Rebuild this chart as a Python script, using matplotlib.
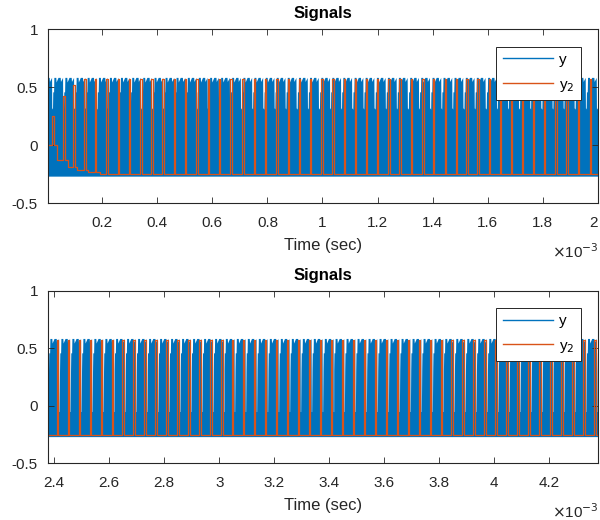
import numpy as np
import matplotlib
matplotlib.use("Agg")
import matplotlib.pyplot as plt
from matplotlib.lines import Line2D
from matplotlib.ticker import FuncFormatter
from matplotlib.transforms import ScaledTranslation

plt.rcParams['font.family'] = ['Liberation Sans', 'DejaVu Sans']

# colours (matlab default order)
c_y = '#0072BD'
c_y2 = '#D95319'

# --- top panel, times in ms ---
top_xlim = [0.0016, 2.0]
top_pulse_t = [0.019, 0.058, 0.094, 0.134, 0.173, 0.2144, 0.2565, 0.2965, 0.3379,
               0.3779, 0.4179, 0.4589, 0.4989, 0.5414, 0.5835, 0.6235, 0.6649,
               0.7085, 0.7497, 0.7896, 0.8321, 0.8742, 0.915, 0.955, 0.996, 1.036,
               1.077, 1.117, 1.158, 1.198, 1.239, 1.279, 1.3198, 1.3626, 1.4011,
               1.4436, 1.4836, 1.5225, 1.5625, 1.6047, 1.6436, 1.6836, 1.7246,
               1.7645, 1.8045, 1.8459, 1.8859, 1.9280, 1.9706]
top_pulse_peak = [0.25, 0.42, 0.52, 0.57] + [0.575] * 45
top_base_t = [0.0, 0.036, 0.077, 0.107, 0.149, 0.19]
top_base_v = [0.0, -0.13, -0.19, -0.215, -0.235, -0.25]
top_block_t = [-0.021, 0.019, 0.059, 0.100, 0.140, 0.181, 0.221, 0.261, 0.302, 0.342,
               0.383, 0.423, 0.463, 0.504, 0.544, 0.585, 0.625, 0.665, 0.706, 0.746,
               0.787, 0.827, 0.867, 0.908, 0.948, 0.989, 1.029, 1.069, 1.110, 1.150,
               1.191, 1.231, 1.271, 1.312, 1.352, 1.393, 1.433, 1.473, 1.514, 1.554,
               1.595, 1.635, 1.675, 1.716, 1.756, 1.797, 1.837, 1.877, 1.918, 1.958,
               1.999, 2.039]
top_gap_v = 0.32

# --- bottom panel ---
bot_xlim = [2.376, 4.376]
bot_pulse_t = [2.408, 2.448, 2.488, 2.528, 2.568, 2.608, 2.647, 2.687, 2.727, 2.767,
               2.807, 2.847, 2.887, 2.927, 2.967, 3.007, 3.046, 3.086, 3.126, 3.166,
               3.206, 3.246, 3.286, 3.326, 3.366, 3.406, 3.445, 3.485, 3.525, 3.565,
               3.605, 3.645, 3.685, 3.725, 3.765, 3.805, 3.844, 3.884, 3.924, 3.964,
               4.004, 4.044, 4.084, 4.124, 4.164, 4.204, 4.243, 4.283, 4.323, 4.363]
bot_pulse_peak = [0.575] * 50
bot_base_t = [0.0]
bot_base_v = [-0.25]
bot_block_offset = -0.029   # blue block starts this long before each pulse
bot_gap_v = -0.05

# shape of one blue block (upper envelope), then the thin gap before the next one
prof_dt = [0.000, 0.001, 0.004, 0.005, 0.012, 0.013, 0.020, 0.021, 0.028, 0.029, 0.0366]
prof_hi = [0.31, 0.46, 0.46, 0.585, 0.585, 0.545, 0.585, 0.585, 0.585, 0.55, 0.585]
gap_dt = [0.0374, 0.0388]
band_lo = -0.268
pulse_w = 0.005

y_ticks = [-0.5, 0, 0.5, 1]
top_xticks = [0.2, 0.4, 0.6, 0.8, 1, 1.2, 1.4, 1.6, 1.8, 2]
bot_xticks = [2.4, 2.6, 2.8, 3, 3.2, 3.4, 3.6, 3.8, 4, 4.2]


def band(blocks, gap_v):
    dt = np.array(prof_dt + gap_dt)
    v = prof_hi + [gap_v] * len(gap_dt)
    t = np.concatenate([b + dt for b in blocks])
    hi = np.tile(v, len(blocks))
    return t, hi


def pulse_path(pt, peak, base_t, base_v, t_end):
    def base(t):
        i = np.searchsorted(base_t, t, side='right') - 1
        return base_v[max(i, 0)]
    ev = sorted(set(list(base_t) + list(pt) + [p + pulse_w for p in pt] + [t_end]))
    xs, ys = [], []
    for a, b in zip(ev[:-1], ev[1:]):
        m = 0.5 * (a + b)
        v = base(m)
        for p, h in zip(pt, peak):
            if p <= m < p + pulse_w:
                v = h
        xs += [a, b]
        ys += [v, v]
    return xs, ys


def style(ax, xlim, xticks):
    ax.set_xlim(xlim)
    ax.set_ylim(-0.5, 1)
    ax.set_xticks(xticks)
    ax.set_yticks(y_ticks)
    fmt = FuncFormatter(lambda v, _: '%g' % v)
    ax.xaxis.set_major_formatter(fmt)
    ax.yaxis.set_major_formatter(fmt)
    ax.tick_params(direction='in', length=4.5, width=0.6, top=True, right=True,
                   labelsize=11, colors='#262626')
    ax.tick_params(axis='x', pad=9)
    ax.tick_params(axis='y', pad=7)
    for s in ax.spines.values():
        s.set_linewidth(0.8)
        s.set_color('#262626')
    ax.set_title('Signals', fontsize=12, fontweight='bold', pad=8)
    ax.set_xlabel('Time (sec)', fontsize=12, color='#262626', labelpad=6)
    ax.annotate(r'$\times$10$^{-3}$', xy=(1, 0), xycoords='axes fraction',
                xytext=(1, -28), textcoords='offset points', ha='right', va='top',
                fontsize=11, color='#262626')
    hs = [Line2D([], [], color=c_y, lw=1.0), Line2D([], [], color=c_y2, lw=1.0)]
    leg = ax.legend(hs, ['y', 'y$_2$'], loc='upper right', bbox_to_anchor=(0.969, 0.9),
                    borderaxespad=0, fancybox=False, framealpha=1, edgecolor='#262626',
                    fontsize=11, handlelength=3.3, handletextpad=0.4, borderpad=0.4,
                    labelspacing=0.7)
    leg.get_frame().set_linewidth(0.7)


fig = plt.figure(figsize=(6, 5.2), dpi=100)
ax1 = fig.add_axes([0.0795, 0.6096, 0.9167, 0.334])
ax2 = fig.add_axes([0.0795, 0.109, 0.9167, 0.332])

# top
t, hi = band(top_block_t, top_gap_v)
ax1.fill_between(t, band_lo, hi, color=c_y, lw=0)
xs, ys = pulse_path(top_pulse_t, top_pulse_peak, top_base_t, top_base_v, 2.1)
ax1.plot(xs, ys, color=c_y2, lw=0.9)
style(ax1, top_xlim, top_xticks)

# bottom
per = np.mean(np.diff(bot_pulse_t))
bot_blocks = [bot_pulse_t[0] - per] + bot_pulse_t + [bot_pulse_t[-1] + per]
t, hi = band([p + bot_block_offset for p in bot_blocks], bot_gap_v)
ax2.fill_between(t, band_lo, hi, color=c_y, lw=0)
xs, ys = pulse_path(bot_pulse_t, bot_pulse_peak, bot_base_t, bot_base_v, 4.5)
ax2.plot(xs, ys, color=c_y2, lw=0.9)
style(ax2, bot_xlim, bot_xticks)

# last top tick label "2" sits on the figure edge, pull it in a little
fig.canvas.draw()
lab = ax1.get_xticklabels()[-1]
lab.set_transform(lab.get_transform() + ScaledTranslation(-3 / 72, 0, fig.dpi_scale_trans))

fig.savefig('out.png', dpi=100)
